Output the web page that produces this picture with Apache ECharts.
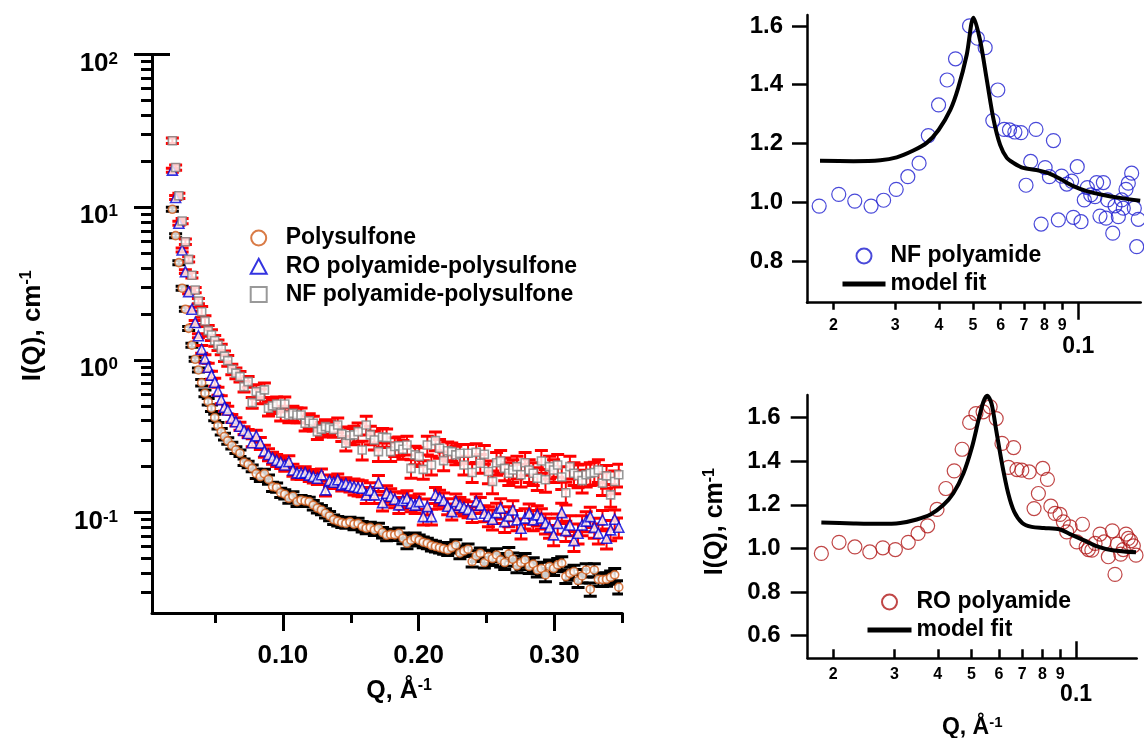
<!DOCTYPE html>
<html><head><meta charset="utf-8">
<script src="https://cdn.jsdelivr.net/npm/echarts@6/dist/echarts.min.js"></script>
<style>html,body{margin:0;padding:0;background:#fff}#c{width:1144px;height:738px}</style>
</head><body><div id="c"></div>
<script>
// ---------- Left panel: I(Q) vs Q (log y) ----------
const qValues = [0.0186,0.0210,0.0234,0.0258,0.0282,0.0306,0.0330,0.0354,0.0378,0.0402,0.0426,0.0450,0.0474,0.0498,0.0522,0.0546,0.0570,0.0594,
0.0624,0.0654,0.0684,0.0714,0.0744,0.0774,0.0804,0.0834,0.0864,0.0894,
0.0924,0.0954,0.0984,0.1014,0.1044,0.1074,0.1104,0.1134,0.1164,0.1194,
0.1224,0.1254,0.1284,0.1314,0.1344,0.1374,0.1404,0.1434,0.1464,0.1494,
0.1524,0.1554,0.1584,0.1614,0.1644,0.1674,0.1704,0.1734,0.1764,0.1794,
0.1824,0.1854,0.1884,0.1914,0.1944,0.1974,0.2004,0.2034,0.2064,0.2094,
0.2124,0.2154,0.2184,0.2214,0.2244,0.2274,0.2304,0.2334,0.2364,0.2394,
0.2424,0.2454,0.2484,0.2514,0.2544,0.2574,0.2604,0.2634,0.2664,0.2694,
0.2724,0.2754,0.2784,0.2814,0.2844,0.2874,0.2904,0.2934,0.2964,0.2994,
0.3024,0.3054,0.3084,0.3114,0.3144,0.3174,0.3204,0.3234,0.3264,0.3294,
0.3324,0.3354,0.3384,0.3414,0.3444,0.3474];

const polysulfone = [9.7,6.52,4.34,2.95,2.15,1.61,1.25,1.01,0.86,0.71,0.605,0.533,0.483,0.42,0.371,0.339,0.315,0.295,
0.275,0.257,0.245,0.214,0.207,0.195,0.180,0.172,0.180,0.165,
0.148,0.146,0.135,0.132,0.124,0.128,0.118,0.121,0.119,0.118,
0.112,0.107,0.104,0.099,0.095,0.090,0.088,0.086,0.085,0.087,
0.084,0.085,0.081,0.079,0.080,0.077,0.079,0.074,0.071,0.072,
0.0715,0.0733,0.068,0.063,0.066,0.068,0.066,0.064,0.063,0.061,
0.060,0.059,0.058,0.057,0.059,0.0614,0.0542,0.056,0.0576,0.0478,
0.052,0.0542,0.0471,0.0515,0.050,0.0528,0.049,0.0471,0.0537,0.0495,
0.0448,0.047,0.049,0.0444,0.046,0.0421,0.043,0.0391,0.0444,0.043,
0.0455,0.0467,0.0381,0.040,0.0411,0.0359,0.0385,0.0421,0.0315,0.0421,
0.0366,0.0364,0.0366,0.0377,0.0391,0.0325];

const roPolyamidePolysulfone = [17.5,11.6,7.86,5.25,3.79,2.80,2.15,1.76,1.44,1.175,1.02,0.896,0.795,0.715,0.625,0.55,0.49,0.47,
0.415,0.394,0.368,0.345,0.330,0.287,0.318,0.285,0.253,0.240,
0.228,0.220,0.214,0.205,0.216,0.190,0.182,0.181,0.183,0.176,
0.172,0.168,0.177,0.141,0.162,0.158,0.164,0.152,0.155,0.150,
0.148,0.146,0.1445,0.1306,0.140,0.1306,0.156,0.1163,0.134,0.128,
0.1224,0.1123,0.120,0.1243,0.1152,0.112,0.118,0.0941,0.1095,0.0941,
0.1306,0.125,0.120,0.110,0.1015,0.118,0.112,0.108,0.105,0.098,
0.118,0.112,0.099,0.095,0.0905,0.100,0.107,0.0873,0.095,0.104,
0.0896,0.079,0.092,0.099,0.0896,0.0966,0.092,0.0853,0.080,0.0715,
0.085,0.100,0.0762,0.083,0.0655,0.0733,0.083,0.088,0.0941,0.080,
0.0733,0.0896,0.068,0.0771,0.0905,0.0802];

const nfPolyamidePolysulfone = [27.3,18.2,11.9,8.13,5.95,4.56,3.59,2.87,2.43,2.07,1.80,1.555,1.458,1.337,1.253,1.175,1.06,0.99,
0.869,0.82,0.778,0.669,0.721,0.525,0.620,0.581,0.637,0.483,
0.50,0.515,0.448,0.515,0.436,0.448,0.436,0.436,0.385,0.40,
0.385,0.339,0.352,0.366,0.36,0.35,0.375,0.328,0.285,0.32,
0.323,0.339,0.257,0.375,0.323,0.299,0.251,0.312,0.31,0.251,
0.271,0.274,0.26,0.277,0.195,0.239,0.233,0.192,0.277,0.205,
0.296,0.264,0.219,0.254,0.251,0.239,0.245,0.205,0.245,0.183,
0.248,0.2105,0.241,0.186,0.160,0.212,0.218,0.195,0.181,0.19,
0.2,0.177,0.212,0.19,0.181,0.168,0.218,0.164,0.2,0.19,
0.205,0.171,0.135,0.2,0.181,0.175,0.162,0.177,0.181,0.183,
0.19,0.156,0.174,0.1306,0.16,0.177];

// relative error bar half-size, read per Q band
const errBandUpperQ = [0.04, 0.08, 0.15, 0.25, 0.36];
const polysulfoneErr = [0.03, 0.05, 0.07, 0.08, 0.10];
const roErr = [0.03, 0.06, 0.09, 0.12, 0.15];
const nfErr = [0.04, 0.08, 0.11, 0.14, 0.17];

const leftXMajorTicks = [0.10, 0.20, 0.30];
const leftXMinorTicks = [0.05, 0.15, 0.25, 0.35];
const leftYMajorTicks = [0.1, 1, 10, 100];
const leftYMinorTicks = [0.03,0.04,0.05,0.06,0.07,0.08,0.09,0.2,0.3,0.4,0.5,0.6,0.7,0.8,0.9,2,3,4,5,6,7,8,9,20,30,40,50,60,70,80,90];

// ---------- Right panels ----------
const nfPolyQ = [0.0182,0.0207,0.0230,0.0256,0.0278,0.0302,0.0326,0.0351,0.0373,0.0399,0.0422,0.0446,0.0489,0.0515,0.0542,0.0570,0.0589,0.0614,0.0636,0.0659,0.0686,0.0709,0.0731,0.0757,0.0783,0.0804,0.0827,0.0849,0.0877,0.0896,0.0927,0.0957,0.0968,0.0993,0.1018,0.1040,0.1061,0.1085,0.1116,0.1128,0.1153,0.1179,0.1200,0.1213,0.1254,0.1273,0.1301,0.1330,0.1344,0.1368,0.1389,0.1420,0.1445,0.1468,0.1483];
const nfPolyI = [0.987,1.027,1.004,0.987,1.007,1.044,1.087,1.133,1.227,1.331,1.416,1.488,1.600,1.558,1.526,1.278,1.382,1.248,1.246,1.239,1.237,1.058,1.139,1.248,0.926,1.118,1.087,1.21,0.940,1.089,1.062,1.072,0.949,1.121,0.934,1.008,1.050,1.025,1.019,1.067,0.953,1.067,0.946,1.008,0.895,0.988,0.951,1.008,0.980,1.044,1.065,1.099,0.980,0.849,0.942];
const nfFitQ = [0.0183,0.0228,0.0272,0.0303,0.0338,0.0369,0.0399,0.0431,0.0454,0.0480,0.0502,0.0524,0.0548,0.0573,0.0598,0.0625,0.0653,0.0696,0.0759,0.0821,0.0889,0.0968,0.1057,0.1179,0.1315,0.1502];
const nfFitI = [1.141,1.140,1.143,1.153,1.176,1.202,1.246,1.314,1.389,1.501,1.628,1.552,1.416,1.280,1.195,1.151,1.134,1.117,1.110,1.099,1.079,1.055,1.038,1.025,1.015,1.005];

const roPolyQ = [0.0185,0.0208,0.0231,0.0255,0.0278,0.0302,0.0329,0.0351,0.0374,0.0398,0.0422,0.0446,0.0470,0.0494,0.0515,0.0540,0.0566,0.0589,0.0612,0.0639,0.0661,0.0676,0.0698,0.0733,0.0757,0.0779,0.0802,0.0827,0.0846,0.0870,0.0899,0.0919,0.0940,0.0961,0.1005,0.1043,0.1069,0.1085,0.1110,0.1134,0.1172,0.1204,0.1238,0.1271,0.1294,0.1314,0.1344,0.1367,0.1392,0.1413,0.1436,0.1461,0.1487];
const roPolyI = [0.977,1.028,1.007,0.984,1.003,0.995,1.028,1.069,1.104,1.179,1.275,1.356,1.455,1.578,1.619,1.627,1.650,1.596,1.482,1.372,1.463,1.362,1.359,1.351,1.183,1.252,1.367,1.317,1.194,1.161,1.156,1.122,1.076,1.099,1.030,1.111,1.007,0.995,0.992,1.023,1.066,1.030,0.962,1.081,0.881,1.020,0.974,0.995,1.066,1.046,1.035,1.012,0.969];
const roFitQ = [0.0185,0.0229,0.0273,0.0312,0.0348,0.0381,0.0415,0.0443,0.0474,0.0502,0.0524,0.0541,0.0555,0.0571,0.0589,0.0612,0.0638,0.0664,0.0700,0.0745,0.0808,0.0899,0.0961,0.1051,0.1143,0.1272,0.1487];
const roFitI = [1.119,1.115,1.113,1.117,1.133,1.156,1.199,1.252,1.344,1.466,1.589,1.672,1.700,1.665,1.543,1.390,1.252,1.168,1.117,1.099,1.094,1.087,1.066,1.038,1.011,0.992,0.982];

const rightXMinorTicks = [0.02,0.03,0.04,0.05,0.06,0.07,0.08,0.09];
const rightXMajorTicks = [0.1];
const topRightYTicks = [0.8,1.0,1.2,1.4,1.6];
const bottomRightYTicks = [0.6,0.8,1.0,1.2,1.4,1.6];

// ---------- Chart ----------
const FONT = "'Liberation Sans', Arial, Helvetica, sans-serif";
const chart = echarts.init(document.getElementById('c'), null, {renderer: 'canvas'});

function pts(qs, vs) { return qs.map((q, i) => [q, vs[i]]); }
function bandErr(q, errs) {
  for (let i = 0; i < errBandUpperQ.length; i++) if (q <= errBandUpperQ[i]) return errs[i];
  return errs[errs.length - 1];
}
function errSeries(qs, vs, errs, color) {
  return {
    type: 'custom', xAxisIndex: 0, yAxisIndex: 0, silent: true, clip: true,
    data: qs.map((q, i) => [q, vs[i], bandErr(q, errs)]),
    encode: {x: 0, y: 1},
    renderItem: function (params, api) {
      const q = api.value(0), v = api.value(1), e = api.value(2);
      const top = api.coord([q, v * (1 + e)]);
      const bot = api.coord([q, v * (1 - e)]);
      const hw = 6.5;
      return {type: 'group', children: [
        {type: 'line', shape: {x1: top[0], y1: top[1], x2: bot[0], y2: bot[1]}, style: {stroke: color, lineWidth: 2}},
        {type: 'line', shape: {x1: top[0] - hw, y1: top[1], x2: top[0] + hw, y2: top[1]}, style: {stroke: color, lineWidth: 3}},
        {type: 'line', shape: {x1: bot[0] - hw, y1: bot[1], x2: bot[0] + hw, y2: bot[1]}, style: {stroke: color, lineWidth: 3}}
      ]};
    }
  };
}

const bold = {fontFamily: FONT, fontWeight: 'bold', color: '#000'};
const supRich = {
  t: Object.assign({fontSize: 25, lineHeight: 26, verticalAlign: 'bottom'}, bold),
  s: Object.assign({fontSize: 16, lineHeight: 16, verticalAlign: 'top', padding: [0, 0, 14, 0]}, bold)
};
const supRichSmall = {
  t: Object.assign({fontSize: 23, lineHeight: 24, verticalAlign: 'bottom'}, bold),
  s: Object.assign({fontSize: 15, lineHeight: 15, verticalAlign: 'top', padding: [0, 0, 13, 0]}, bold)
};
const axisLine3 = {show: true, onZero: false, lineStyle: {color: '#000', width: 3}};
const axisLine25 = {show: true, onZero: false, lineStyle: {color: '#000', width: 2.5}};
const noLine = {show: false};
const noSplit = {show: false};
const legendText = (pad) => Object.assign({fontSize: 23, lineHeight: 26, padding: [0, 0, 0, pad]}, bold);

const option = {
  animation: false,
  backgroundColor: '#fff',
  textStyle: {fontFamily: FONT},
  grid: [
    {left: 152, top: 54.6, width: 470.3, height: 558.4, outerBoundsMode: 'none', containLabel: false},
    {left: 807, top: 15, width: 333.7, height: 287.7, outerBoundsMode: 'none', containLabel: false},
    {left: 807.7, top: 395, width: 329, height: 263.3, outerBoundsMode: 'none', containLabel: false}
  ],
  xAxis: [
    {gridIndex: 0, position: 'bottom', type: 'value', min: 0.0036, max: 0.35, axisLine: axisLine3, splitLine: noSplit,
     axisTick: {customValues: leftXMajorTicks, length: 18, lineStyle: {color: '#000', width: 3}},
     axisLabel: Object.assign({customValues: leftXMajorTicks, formatter: v => v.toFixed(2), fontSize: 26, margin: 30}, bold),
     name: '{t|Q, Å}{s|-1}', nameLocation: 'middle', nameGap: 65, nameTextStyle: {rich: supRich, padding: [0, 0, 0, 24]}},
    {gridIndex: 0, position: 'bottom', type: 'value', min: 0.0036, max: 0.35, axisLine: noLine, splitLine: noSplit,
     axisTick: {customValues: leftXMinorTicks, length: 10, lineStyle: {color: '#000', width: 3}},
     axisLabel: {show: false}},
    {gridIndex: 1, position: 'bottom', type: 'log', logBase: 10, min: 0.0168, max: 0.1507, axisLine: axisLine25, splitLine: noSplit,
     axisTick: {customValues: rightXMinorTicks, length: 7, lineStyle: {color: '#000', width: 2.5}},
     axisLabel: Object.assign({customValues: rightXMinorTicks, formatter: v => String(Math.round(v * 100)), fontSize: 16, margin: 15}, bold)},
    {gridIndex: 1, position: 'bottom', type: 'log', logBase: 10, min: 0.0168, max: 0.1507, axisLine: noLine, splitLine: noSplit,
     axisTick: {customValues: rightXMajorTicks, length: 17, lineStyle: {color: '#000', width: 2.5}},
     axisLabel: Object.assign({customValues: rightXMajorTicks, formatter: () => '0.1', fontSize: 23, margin: 32}, bold)},
    {gridIndex: 2, position: 'bottom', type: 'log', logBase: 10, min: 0.0169, max: 0.1494, axisLine: axisLine25, splitLine: noSplit,
     axisTick: {inside: true, customValues: rightXMinorTicks, length: 9, lineStyle: {color: '#000', width: 2.5}},
     axisLabel: Object.assign({customValues: rightXMinorTicks, formatter: v => String(Math.round(v * 100)), fontSize: 16, margin: 8}, bold),
     name: '{t|Q, Å}{s|-1}', nameLocation: 'middle', nameGap: 57, nameTextStyle: {rich: supRichSmall}},
    {gridIndex: 2, position: 'bottom', type: 'log', logBase: 10, min: 0.0169, max: 0.1494, axisLine: noLine, splitLine: noSplit,
     axisTick: {inside: true, customValues: rightXMajorTicks, length: 17, lineStyle: {color: '#000', width: 2.5}},
     axisLabel: Object.assign({customValues: rightXMajorTicks, formatter: () => '0.1', fontSize: 23, margin: 25}, bold)}
  ],
  yAxis: [
    {gridIndex: 0, position: 'left', type: 'log', logBase: 10, min: 0.022, max: 100, axisLine: axisLine3, splitLine: noSplit,
     axisTick: {customValues: leftYMajorTicks, length: 18, lineStyle: {color: '#000', width: 3}},
     axisLabel: Object.assign({customValues: leftYMajorTicks, margin: 34, padding: [18, 0, 0, 0],
       formatter: v => '{b|10}{s|' + Math.round(Math.log10(v)) + '}',
       rich: {
         b: Object.assign({fontSize: 26, lineHeight: 26, verticalAlign: 'bottom'}, bold),
         s: Object.assign({fontSize: 17, lineHeight: 17, verticalAlign: 'top', padding: [0, 0, 21, 0]}, bold)
       }}, bold),
     name: '{t|I(Q), cm}{s|-1}', nameLocation: 'middle', nameRotate: 90, nameGap: 106,
     nameTextStyle: {rich: {t: Object.assign({}, supRich.t, {fontSize: 26, lineHeight: 27}), s: supRich.s}, padding: [0, 0, 0, 16]}},
    {gridIndex: 0, position: 'left', type: 'log', logBase: 10, min: 0.022, max: 100, axisLine: noLine, splitLine: noSplit,
     axisTick: {customValues: leftYMinorTicks, length: 11, lineStyle: {color: '#000', width: 3}},
     axisLabel: {show: false}},
    {gridIndex: 0, position: 'left', type: 'log', logBase: 10, min: 0.022, max: 100, axisLine: noLine, splitLine: noSplit,
     axisTick: {inside: true, customValues: [100], length: 18, lineStyle: {color: '#000', width: 3}},
     axisLabel: {show: false}},
    {gridIndex: 1, position: 'left', type: 'value', min: 0.6585, max: 1.637, axisLine: axisLine25, splitLine: noSplit,
     axisTick: {customValues: topRightYTicks, length: 15, lineStyle: {color: '#000', width: 2.5}},
     axisLabel: Object.assign({customValues: topRightYTicks, formatter: v => v.toFixed(1), fontSize: 24, margin: 24}, bold)},
    {gridIndex: 2, position: 'left', type: 'value', min: 0.496, max: 1.704, axisLine: axisLine25, splitLine: noSplit,
     axisTick: {customValues: bottomRightYTicks, length: 17, lineStyle: {color: '#000', width: 2.5}},
     axisLabel: Object.assign({customValues: bottomRightYTicks, formatter: v => v.toFixed(1), fontSize: 24, margin: 27}, bold),
     name: '{t|I(Q), cm}{s|-1}', nameLocation: 'middle', nameRotate: 90, nameGap: 80,
     nameTextStyle: {rich: supRich, padding: [0, 0, 0, 10]}}
  ],
  legend: [
    {left: 244.7, top: 220, orient: 'vertical', itemWidth: 16, itemHeight: 15, itemGap: 2.3, selectedMode: false,
     data: ['Polysulfone', 'RO polyamide-polysulfone', 'NF polyamide-polysulfone'],
     textStyle: legendText(14)},
    {left: 835, top: 238, orient: 'vertical', itemWidth: 43, itemHeight: 15, itemGap: 2, selectedMode: false,
     data: ['NF polyamide', {name: 'model fit', lineStyle: {width: 5, color: '#000'}, itemStyle: {opacity: 0}}],
     textStyle: legendText(0)},
    {left: 860, top: 584, orient: 'vertical', itemWidth: 44, itemHeight: 15, itemGap: 2, selectedMode: false,
     data: ['RO polyamide', {name: 'model fit', lineStyle: {width: 5, color: '#000'}, itemStyle: {opacity: 0}}],
     textStyle: legendText(0)}
  ],
  series: [
    errSeries(qValues, polysulfone, polysulfoneErr, '#000000'),
    {type: 'scatter', name: 'Polysulfone', xAxisIndex: 0, yAxisIndex: 0, data: pts(qValues, polysulfone),
     symbol: 'circle', symbolSize: 8, itemStyle: {color: '#ffffff', borderColor: '#d05a18', borderWidth: 1.6}},
    errSeries(qValues, roPolyamidePolysulfone, roErr, '#ff0000'),
    {type: 'scatter', name: 'RO polyamide-polysulfone', xAxisIndex: 0, yAxisIndex: 0, data: pts(qValues, roPolyamidePolysulfone),
     symbol: 'triangle', symbolSize: 10, itemStyle: {color: '#ffffff', borderColor: '#0000d8', borderWidth: 1.6}},
    errSeries(qValues, nfPolyamidePolysulfone, nfErr, '#ff0000'),
    {type: 'scatter', name: 'NF polyamide-polysulfone', xAxisIndex: 0, yAxisIndex: 0, data: pts(qValues, nfPolyamidePolysulfone),
     symbol: 'rect', symbolSize: 8, itemStyle: {color: '#ffffff', borderColor: '#808080', borderWidth: 1.6}},

    {type: 'scatter', name: 'NF polyamide', xAxisIndex: 2, yAxisIndex: 3, data: pts(nfPolyQ, nfPolyI),
     symbol: 'circle', symbolSize: 14, itemStyle: {color: 'rgba(255,255,255,0)', borderColor: '#1c1cd0', borderWidth: 1.2}},
    {type: 'line', name: 'model fit', xAxisIndex: 2, yAxisIndex: 3, data: pts(nfFitQ, nfFitI),
     smooth: 0.3, symbol: 'none', lineStyle: {color: '#000', width: 4}, itemStyle: {color: '#000'}},

    {type: 'scatter', name: 'RO polyamide', xAxisIndex: 4, yAxisIndex: 4, data: pts(roPolyQ, roPolyI),
     symbol: 'circle', symbolSize: 14, itemStyle: {color: 'rgba(255,255,255,0)', borderColor: '#b01818', borderWidth: 1.2}},
    {type: 'line', name: 'model fit', xAxisIndex: 4, yAxisIndex: 4, data: pts(roFitQ, roFitI),
     smooth: 0.3, symbol: 'none', lineStyle: {color: '#000', width: 4}, itemStyle: {color: '#000'}}
  ]
};
chart.setOption(option);
</script>
</body></html>
